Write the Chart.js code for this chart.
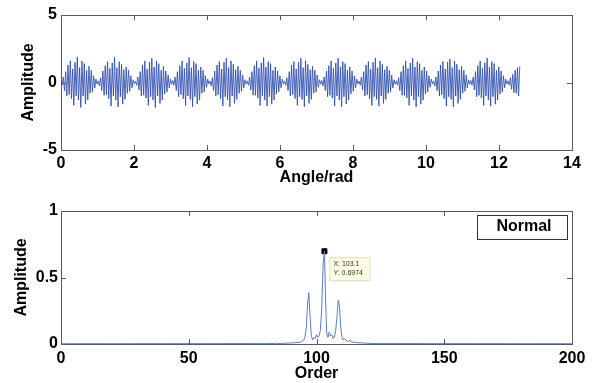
<!DOCTYPE html>
<html>
<head>
<meta charset="utf-8">
<script src="https://cdn.jsdelivr.net/npm/chart.js@4.4.1/dist/chart.umd.min.js"></script>
<style>
    body { margin: 0; background: #fff; }
    #wrap { position: relative; width: 592px; height: 383px; }
    #topChart { position: absolute; left: 0; top: 0; }
    #bottomChart { position: absolute; left: 0; top: 190px; }
</style>
</head>
<body>
<div id="wrap">
    <canvas id="topChart" width="592" height="190"></canvas>
    <canvas id="bottomChart" width="592" height="193"></canvas>
</div>
<script>
// signal sampled every angleStep rad, one row per envelope lobe
var angleStep = 0.0319;
var signalValues = [
    0.1,-0.2,0.4,-0.6,0.8,-1.0,1.3,-0.9,1.6,-1.2,1.0,-1.7,1.5,-1.0,1.9,-1.3,1.1,-1.85,1.6,-1.0,1.4,-1.6,0.9,-1.3,1.2,-0.8,0.9,-0.7,0.5,-0.4,0.25,-0.12,
    0.12,-0.25,0.35,-0.6,0.85,-0.95,1.25,-0.9,1.55,-1.2,1.05,-1.75,1.45,-1.0,1.85,-1.3,1.1,-1.8,1.55,-1.05,1.35,-1.6,0.95,-1.25,1.15,-0.8,0.9,-0.65,0.5,-0.4,0.2,-0.1,
    0.1,-0.2,0.4,-0.55,0.8,-1.0,1.3,-0.95,1.6,-1.15,1.0,-1.7,1.5,-1.05,1.8,-1.3,1.15,-1.85,1.6,-1.0,1.4,-1.55,0.9,-1.3,1.2,-0.85,0.85,-0.7,0.55,-0.4,0.25,-0.12,
    0.15,-0.2,0.4,-0.6,0.8,-1.05,1.25,-0.9,1.6,-1.2,1.05,-1.7,1.45,-1.0,1.85,-1.25,1.1,-1.8,1.55,-1.05,1.4,-1.6,0.9,-1.3,1.15,-0.8,0.9,-0.7,0.5,-0.35,0.25,-0.1,
    0.1,-0.25,0.35,-0.6,0.85,-1.0,1.3,-0.9,1.55,-1.2,1.0,-1.75,1.5,-1.05,1.8,-1.3,1.1,-1.8,1.6,-1.0,1.35,-1.55,0.95,-1.25,1.2,-0.8,0.9,-0.65,0.55,-0.4,0.2,-0.12,
    0.12,-0.2,0.4,-0.55,0.8,-0.95,1.25,-0.95,1.6,-1.15,1.05,-1.7,1.45,-1.0,1.85,-1.3,1.15,-1.75,1.55,-1.05,1.4,-1.6,0.9,-1.3,1.15,-0.85,0.85,-0.7,0.5,-0.4,0.25,-0.1,
    0.1,-0.2,0.35,-0.6,0.8,-1.0,1.3,-0.9,1.55,-1.2,1.0,-1.7,1.5,-1.05,1.8,-1.25,1.1,-1.8,1.6,-1.0,1.35,-1.55,0.95,-1.25,1.2,-0.8,0.9,-0.7,0.55,-0.35,0.2,-0.12,
    0.15,-0.25,0.4,-0.6,0.85,-1.05,1.25,-0.95,1.6,-1.15,1.05,-1.75,1.45,-1.0,1.8,-1.3,1.15,-1.8,1.55,-1.05,1.4,-1.6,0.9,-1.3,1.15,-0.85,0.85,-0.65,0.5,-0.4,0.25,-0.1,
    0.1,-0.2,0.4,-0.55,0.8,-1.0,1.3,-0.9,1.55,-1.2,1.0,-1.7,1.5,-1.05,1.8,-1.25,1.1,-1.75,1.6,-1.0,1.35,-1.55,0.95,-1.25,1.2,-0.8,0.9,-0.7,0.55,-0.4,0.2,-0.12,
    0.12,-0.2,0.35,-0.6,0.8,-0.95,1.25,-0.95,1.6,-1.15,1.05,-1.7,1.45,-1.0,1.8,-1.3,1.15,-1.8,1.55,-1.05,1.4,-1.6,0.9,-1.3,1.15,-0.85,0.85,-0.7,0.5,-0.35,0.25,-0.1,
    0.1,-0.25,0.4,-0.6,0.85,-1.0,1.3,-0.9,1.55,-1.2,1.0,-1.75,1.5,-1.05,1.75,-1.25,1.1,-1.8,1.6,-1.0,1.35,-1.55,0.95,-1.25,1.2,-0.8,0.9,-0.65,0.55,-0.4,0.2,-0.12,
    0.15,-0.2,0.4,-0.55,0.8,-1.05,1.25,-0.95,1.6,-1.15,1.05,-1.7,1.45,-1.0,1.8,-1.3,1.15,-1.75,1.55,-1.05,1.4,-1.6,0.9,-1.3,1.15,-0.85,0.85,-0.7,0.5,-0.4,0.25,-0.1,
    0.12,-0.2,0.35,-0.5,0.6,-0.75,0.9,-0.8,1.1,-1.0,1.2
];

var specOrder = [0, 80, 84, 86, 88, 90, 92, 94, 95, 95.5, 96, 96.5, 97, 97.5, 98, 98.5, 99, 99.5, 100, 100.5, 101, 101.5,
    102, 102.6, 103.1, 103.6, 104, 104.5, 105, 105.5, 106, 106.5, 107, 107.5, 108, 108.5, 109, 109.5, 110, 110.5,
    111, 112, 113, 114, 116, 118, 120, 125, 200];
var specAmp = [0.002, 0.003, 0.005, 0.004, 0.006, 0.008, 0.01, 0.015, 0.03, 0.05, 0.12, 0.3, 0.386, 0.2, 0.06, 0.03,
    0.05, 0.04, 0.07, 0.05, 0.06, 0.1, 0.25, 0.6, 0.6974, 0.3, 0.08, 0.05, 0.09, 0.06, 0.07, 0.04, 0.05, 0.1,
    0.2, 0.33, 0.28, 0.12, 0.05, 0.03, 0.04, 0.02, 0.025, 0.015, 0.01, 0.008, 0.005, 0.003, 0.002];

var tipPoint = { x: 103.1, y: 0.6974 };
var legendText = "Normal";

var topTicksX = [0, 2, 4, 6, 8, 10, 12, 14];
var topTicksY = [-5, 0, 5];
var bottomTicksX = [0, 50, 100, 150, 200];
var bottomTicksY = [0, 0.5, 1];

var font = "'Liberation Sans', Arial, sans-serif";

var signalPoints = signalValues.map(function(v, i) { return { x: i * angleStep, y: v }; });
var specPoints = specOrder.map(function(o, i) { return { x: o, y: specAmp[i] }; });

// matlab style frame with inward ticks on all four sides
var boxPlugin = {
    id: "boxPlugin",
    afterDatasetsDraw: function(chart) {
        var ctx = chart.ctx;
        var a = chart.chartArea;
        var xs = chart.scales.x;
        var ys = chart.scales.y;
        ctx.save();
        ctx.strokeStyle = "#5a5a5a";
        ctx.lineWidth = 1;
        ctx.strokeRect(Math.round(a.left) + 0.5, Math.round(a.top) + 0.5,
            Math.round(a.right - a.left), Math.round(a.bottom - a.top));
        ctx.beginPath();
        xs.ticks.forEach(function(t) {
            var px = Math.round(xs.getPixelForValue(t.value)) + 0.5;
            ctx.moveTo(px, a.bottom); ctx.lineTo(px, a.bottom - 5);
            ctx.moveTo(px, a.top); ctx.lineTo(px, a.top + 5);
        });
        ys.ticks.forEach(function(t) {
            var py = Math.round(ys.getPixelForValue(t.value)) + 0.5;
            ctx.moveTo(a.left, py); ctx.lineTo(a.left + 5, py);
            ctx.moveTo(a.right, py); ctx.lineTo(a.right - 5, py);
        });
        ctx.stroke();
        ctx.restore();
    }
};

// data tip next to the marked peak and the legend box
var annotPlugin = {
    id: "annotPlugin",
    afterDraw: function(chart) {
        var ctx = chart.ctx;
        var a = chart.chartArea;
        var px = chart.scales.x.getPixelForValue(tipPoint.x);
        var py = chart.scales.y.getPixelForValue(tipPoint.y);
        ctx.save();
        ctx.fillStyle = "#ffffe8";
        ctx.strokeStyle = "#dcdcc8";
        ctx.fillRect(px + 5, py + 6, 40, 23);
        ctx.strokeRect(px + 5.5, py + 6.5, 40, 23);
        ctx.fillStyle = "#333";
        ctx.font = "7px " + font;
        ctx.textBaseline = "middle";
        ctx.fillText("X: " + tipPoint.x, px + 9, py + 13);
        ctx.fillText("Y: " + tipPoint.y, px + 9, py + 22);

        var bx = Math.round(a.right) - 95;
        var by = Math.round(a.top) + 4;
        ctx.fillStyle = "#fff";
        ctx.fillRect(bx, by, 90, 24);
        ctx.strokeStyle = "#333";
        ctx.strokeRect(bx + 0.5, by + 0.5, 90, 24);
        ctx.fillStyle = "#000";
        ctx.font = "bold 16px " + font;
        ctx.textAlign = "center";
        ctx.fillText(legendText, bx + 47, by + 12);
        ctx.restore();
    }
};

function axisOptions(min, max, tickVals, titleText, titlePad, isX, fitSize, tickPad) {
    return {
        type: "linear",
        min: min,
        max: max,
        afterBuildTicks: function(scale) {
            scale.ticks = tickVals.map(function(v) { return { value: v }; });
        },
        afterFit: function(scale) {
            if (isX) { scale.height = fitSize; } else { scale.width = fitSize; }
        },
        grid: { display: false, drawTicks: false },
        border: { display: false },
        ticks: {
            color: "#000",
            padding: tickPad,
            maxRotation: 0,
            autoSkip: false,
            callback: function(v) { return String(v); },
            font: { family: font, size: 16, weight: "bold" }
        },
        title: {
            display: true,
            text: titleText,
            color: "#000",
            padding: titlePad,
            font: { family: font, size: 16, weight: "bold" }
        }
    };
}

var topChart = new Chart(document.getElementById("topChart").getContext("2d"), {
    type: "line",
    data: {
        datasets: [{
            data: signalPoints,
            borderColor: "rgba(45,75,175,0.85)",
            borderWidth: 1,
            pointRadius: 0,
            tension: 0,
            fill: false
        }]
    },
    options: {
        responsive: false,
        animation: false,
        layout: { padding: { left: 0, right: 20, top: 15, bottom: 0 } },
        plugins: { legend: { display: false }, tooltip: { enabled: false } },
        scales: {
            x: axisOptions(0, 14, topTicksX, "Angle/rad", { top: 0, bottom: 3 }, true, 40, 4),
            y: axisOptions(-5, 5, topTicksY, "Amplitude", { top: 19, bottom: 0 }, false, 61, 4)
        }
    },
    plugins: [boxPlugin]
});

var bottomChart = new Chart(document.getElementById("bottomChart").getContext("2d"), {
    type: "line",
    data: {
        datasets: [{
            data: specPoints,
            borderColor: "#5a7ccf",
            borderWidth: 1,
            pointRadius: 0,
            tension: 0,
            fill: false
        }, {
            data: [tipPoint],
            showLine: false,
            pointStyle: "rect",
            pointRadius: 3.5,
            backgroundColor: "#000",
            borderColor: "#000"
        }]
    },
    options: {
        responsive: false,
        animation: false,
        layout: { padding: { left: 0, right: 20, top: 21, bottom: 0 } },
        plugins: { legend: { display: false }, tooltip: { enabled: false } },
        scales: {
            x: axisOptions(0, 200, bottomTicksX, "Order", { top: 0, bottom: 0 }, true, 39, 5),
            y: axisOptions(0, 1, bottomTicksY, "Amplitude", { top: 12, bottom: 0 }, false, 61, 3)
        }
    },
    plugins: [boxPlugin, annotPlugin]
});
</script>
</body>
</html>
